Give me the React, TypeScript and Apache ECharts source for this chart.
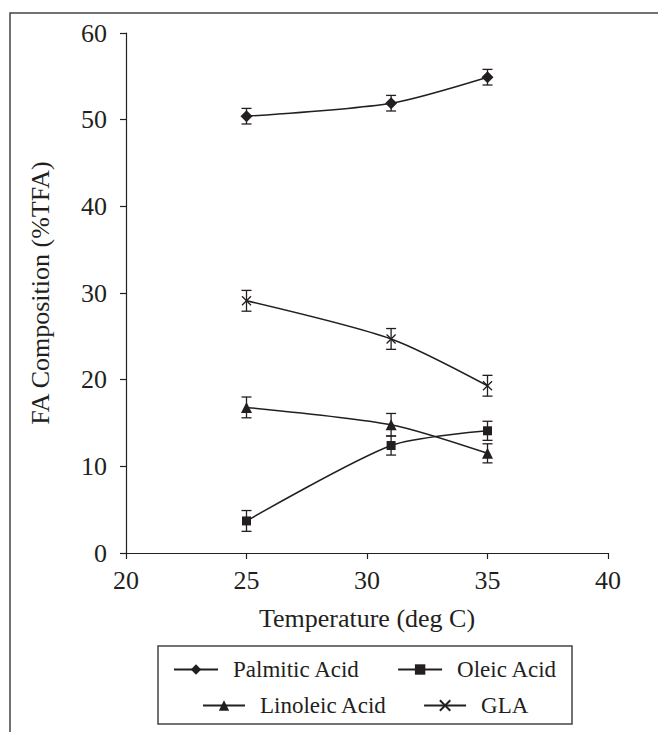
import React, { useEffect, useRef } from "react";
import * as echarts from "echarts";

const temperatures = [25, 31, 35];
const palmitic = [50.4, 51.9, 54.9];
const palmiticErr = [0.9, 0.9, 0.9];
const oleic = [3.7, 12.4, 14.1];
const oleicErr = [1.2, 1.1, 1.1];
const linoleic = [16.8, 14.8, 11.5];
const linoleicErr = [1.2, 1.3, 1.1];
const gla = [29.1, 24.7, 19.3];
const glaErr = [1.2, 1.2, 1.2];
const yTicks = [0, 10, 20, 30, 40, 50, 60];
const xTicks = [20, 25, 30, 35, 40];

const INK = "#231f20";
const FONT = "Liberation Serif";

const crossPath = "path://M0,0L10,10M10,0L0,10";

function lineSeries(name: string, vals: number[], symbol: string, size: number) {
  return {
    name,
    type: "line",
    data: temperatures.map((t, i) => [t, vals[i]]),
    smooth: 0.25,
    symbol,
    symbolSize: size,
    showAllSymbol: true,
    lineStyle: { color: INK, width: 1.5 },
    itemStyle: symbol === crossPath
      ? { color: INK, borderColor: INK, borderWidth: 1.3 }
      : { color: INK, borderColor: INK, borderWidth: 0 },
    z: 3,
  };
}

function errSeries(vals: number[], errs: number[]) {
  return {
    type: "custom",
    silent: true,
    z: 2,
    data: temperatures.map((t, i) => [t, vals[i] - errs[i], vals[i] + errs[i]]),
    renderItem: (params: any, api: any) => {
      const x = api.value(0);
      const lo = api.coord([x, api.value(1)]);
      const hi = api.coord([x, api.value(2)]);
      const w = 5;
      const st = { stroke: INK, lineWidth: 1.3 };
      return {
        type: "group",
        children: [
          { type: "line", shape: { x1: lo[0], y1: lo[1], x2: hi[0], y2: hi[1] }, style: st },
          { type: "line", shape: { x1: lo[0] - w, y1: lo[1], x2: lo[0] + w, y2: lo[1] }, style: st },
          { type: "line", shape: { x1: hi[0] - w, y1: hi[1], x2: hi[0] + w, y2: hi[1] }, style: st },
        ],
      };
    },
  };
}

export default function App() {
  const ref = useRef<HTMLDivElement>(null);
  useEffect(() => {
    document.body.style.margin = "0";
    const chart = echarts.init(ref.current!, undefined, { renderer: "svg" });
    const legendText = { fontFamily: FONT, fontSize: 23, color: INK, padding: [0, 0, 0, 10] };
    chart.setOption({
      animation: false,
      backgroundColor: "#ffffff",
      grid: { left: 126, right: 50, top: 33, bottom: 179 },
      xAxis: {
        type: "value",
        min: xTicks[0],
        max: xTicks[xTicks.length - 1],
        interval: 5,
        name: "Temperature (deg C)",
        nameLocation: "middle",
        nameGap: 52,
        nameTextStyle: { fontFamily: FONT, fontSize: 26, color: INK },
        axisLine: { lineStyle: { color: INK, width: 1.2 } },
        axisTick: { show: true, length: 6, lineStyle: { color: INK, width: 1.2 } },
        axisLabel: { fontFamily: FONT, fontSize: 26, color: INK, margin: 14 },
        splitLine: { show: false },
      },
      yAxis: {
        type: "value",
        min: yTicks[0],
        max: yTicks[yTicks.length - 1],
        interval: 10,
        name: "FA Composition (%TFA)",
        nameLocation: "middle",
        nameGap: 73,
        nameTextStyle: { fontFamily: FONT, fontSize: 26, color: INK },
        axisLine: { show: true, lineStyle: { color: INK, width: 1.2 } },
        axisTick: { show: true, length: 6, lineStyle: { color: INK, width: 1.2 } },
        axisLabel: { fontFamily: FONT, fontSize: 26, color: INK, margin: 19 },
        splitLine: { show: false },
      },
      legend: [
        {
          data: ["Palmitic Acid", "Oleic Acid"],
          left: 173,
          top: 658,
          padding: 0,
          itemWidth: 44,
          itemHeight: 13,
          itemGap: 37,
          textStyle: legendText,
        },
        {
          data: ["Linoleic Acid", "GLA"],
          left: 202,
          top: 694,
          padding: 0,
          itemWidth: 42,
          itemHeight: 13,
          itemGap: 36,
          textStyle: legendText,
        },
      ],
      graphic: [
        {
          type: "rect",
          shape: { x: 10, y: 13, width: 760, height: 800 },
          style: { fill: "none", stroke: "#444", lineWidth: 1.5 },
          silent: true,
        },
        {
          type: "rect",
          shape: { x: 158, y: 646, width: 414, height: 78 },
          style: { fill: "none", stroke: "#444", lineWidth: 1.5 },
          silent: true,
        },
      ],
      series: [
        lineSeries("Palmitic Acid", palmitic, "diamond", 12),
        lineSeries("Oleic Acid", oleic, "rect", 9),
        lineSeries("Linoleic Acid", linoleic, "triangle", 11),
        lineSeries("GLA", gla, crossPath, 9),
        errSeries(palmitic, palmiticErr),
        errSeries(oleic, oleicErr),
        errSeries(linoleic, linoleicErr),
        errSeries(gla, glaErr),
      ],
    });
    return () => chart.dispose();
  }, []);
  return <div ref={ref} style={{ width: 658, height: 732 }} />;
}
